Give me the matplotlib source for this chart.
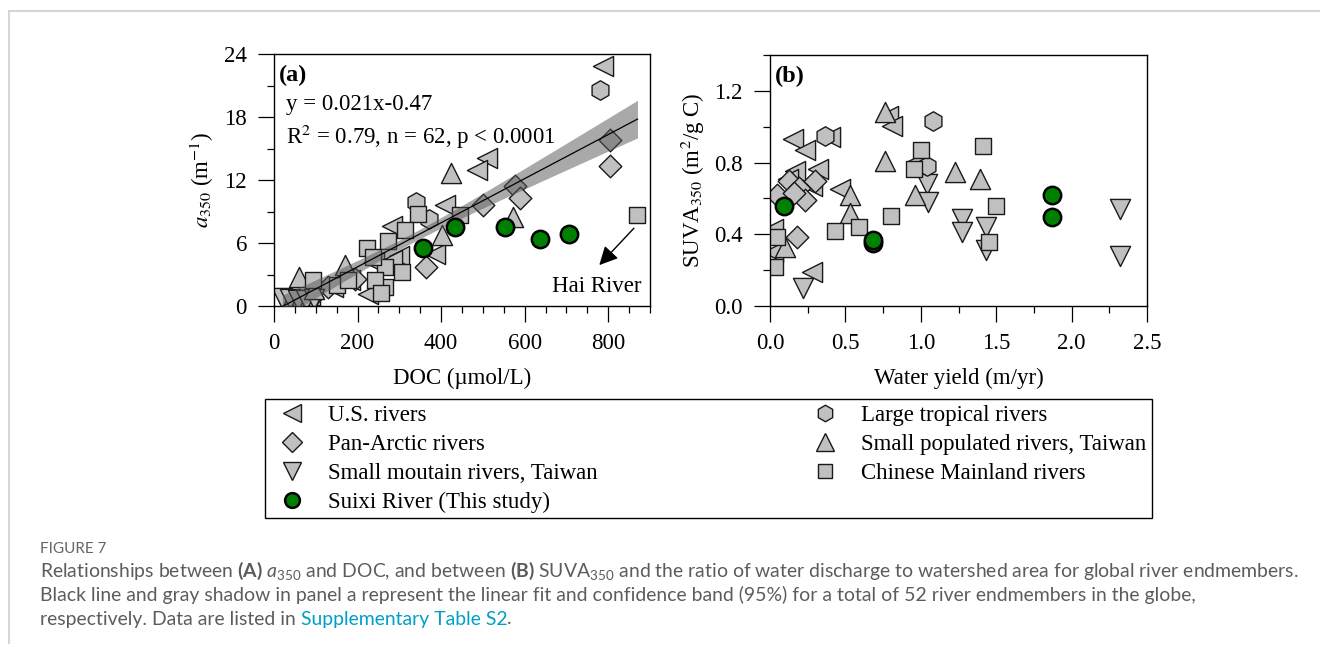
import numpy as np
import matplotlib.pyplot as plt
from matplotlib.lines import Line2D
from matplotlib.ticker import MultipleLocator, FormatStrFormatter

plt.rcParams['font.family'] = 'Liberation Serif'
plt.rcParams['mathtext.fontset'] = 'stix'
plt.rcParams['mathtext.rm'] = 'Lato'
plt.rcParams['mathtext.it'] = 'Lato:italic'
plt.rcParams['mathtext.bf'] = 'Lato:bold'

# ---- panel (a): DOC (umol/L) vs a350 (1/m) ----
us_doc = [788, 509, 485, 410, 386, 282, 225, 182, 141, 85, 55, 240, 300, 282]
us_a350 = [22.9, 14.1, 13.0, 9.6, 5.0, 7.6, 1.1, 2.5, 1.8, 1.0, 0.6, 4.2, 4.8, 4.4]
arctic_doc = [805, 805, 577, 589, 501, 363, 195, 130, 90, 60]
arctic_a350 = [15.8, 13.3, 11.4, 10.3, 9.6, 3.7, 2.6, 1.8, 0.9, 0.6]
mountain_doc = [20, 38, 57, 77, 96]
mountain_a350 = [0.8, 0.7, 0.6, 0.6, 0.7]
tropical_doc = [781, 340, 372]
tropical_a350 = [20.6, 9.9, 8.3]
populated_doc = [61, 95, 169, 401, 424, 573]
populated_a350 = [2.8, 1.6, 3.9, 6.8, 12.7, 8.5]
chinese_doc = [869, 446, 345, 314, 273, 222, 266, 306, 266, 150, 94, 178, 242, 238, 256]
chinese_a350 = [8.7, 8.7, 8.8, 7.2, 6.2, 5.5, 3.7, 3.2, 1.8, 2.0, 2.5, 2.5, 2.5, 4.7, 1.2]
suixi_doc = [356, 434, 553, 637, 707]
suixi_a350 = [5.5, 7.5, 7.5, 6.4, 6.9]

fit_slope, fit_icpt = 0.021, -0.47
fit_range = (20, 870)
band_center, band_half, band_width = 330, 0.45, 140

# ---- panel (b): water yield (m/yr) vs SUVA350 ----
us_wy = [0.155, 0.23, 0.40, 0.785, 0.81, 0.168, 0.32, 0.28, 0.466, 0.28, 0.02, 0.02, 0.98, 0.12]
us_suva = [0.93, 0.87, 0.945, 1.06, 1.005, 0.755, 0.765, 0.67, 0.65, 0.19, 0.43, 0.30, 0.81, 0.71]
arctic_wy = [0.046, 0.124, 0.19, 0.234, 0.30, 0.18, 0.16]
arctic_suva = [0.62, 0.70, 0.66, 0.59, 0.70, 0.385, 0.63]
mountain_wy = [0.22, 1.04, 1.05, 1.27, 1.27, 1.43, 1.43, 2.32, 2.32]
mountain_suva = [0.098, 0.68, 0.58, 0.487, 0.41, 0.44, 0.31, 0.54, 0.28]
tropical_wy = [1.08, 0.365, 1.04]
tropical_suva = [1.03, 0.95, 0.78]
populated_wy = [0.76, 0.76, 0.53, 0.53, 0.96, 1.23, 1.39, 0.10]
populated_suva = [1.08, 0.81, 0.62, 0.52, 0.62, 0.75, 0.71, 0.33]
chinese_wy = [1.0, 0.957, 1.41, 1.50, 1.455, 0.80, 0.59, 0.433, 0.035, 0.046]
chinese_suva = [0.87, 0.765, 0.89, 0.555, 0.357, 0.50, 0.44, 0.42, 0.22, 0.385]
suixi_wy = [0.09, 0.68, 0.685, 1.87, 1.87]
suixi_suva = [0.56, 0.35, 0.37, 0.62, 0.496]

labels = ['U.S. rivers', 'Pan-Arctic rivers', 'Small moutain rivers, Taiwan',
          'Suixi River (This study)', 'Large tropical rivers',
          'Small populated rivers, Taiwan', 'Chinese Mainland rivers']

gray, edge = '#c0c0c0', '#1a1a1a'
styles = {
    'U.S. rivers': dict(marker='<', ms=14.5),
    'Pan-Arctic rivers': dict(marker='D', ms=11.5),
    'Small moutain rivers, Taiwan': dict(marker='v', ms=14.5),
    'Large tropical rivers': dict(marker='h', ms=14),
    'Small populated rivers, Taiwan': dict(marker='^', ms=14.5),
    'Chinese Mainland rivers': dict(marker='s', ms=11.5),
    'Suixi River (This study)': dict(marker='o', ms=12.5),
}

panel_a = {
    'U.S. rivers': (us_doc, us_a350),
    'Pan-Arctic rivers': (arctic_doc, arctic_a350),
    'Small moutain rivers, Taiwan': (mountain_doc, mountain_a350),
    'Large tropical rivers': (tropical_doc, tropical_a350),
    'Small populated rivers, Taiwan': (populated_doc, populated_a350),
    'Chinese Mainland rivers': (chinese_doc, chinese_a350),
}
panel_b = {
    'U.S. rivers': (us_wy, us_suva),
    'Pan-Arctic rivers': (arctic_wy, arctic_suva),
    'Small moutain rivers, Taiwan': (mountain_wy, mountain_suva),
    'Large tropical rivers': (tropical_wy, tropical_suva),
    'Small populated rivers, Taiwan': (populated_wy, populated_suva),
    'Chinese Mainland rivers': (chinese_wy, chinese_suva),
}

FS = 16.5
W, H = 1320, 649
fig = plt.figure(figsize=(W / 100, H / 100), dpi=100)
ax_a = fig.add_axes([274 / W, 1 - 306 / H, 376 / W, 252 / H])
ax_b = fig.add_axes([770 / W, 1 - 306 / H, 377 / W, 251 / H])


def draw_gray(ax, data):
    for name, (x, y) in data.items():
        st = styles[name]
        ax.scatter(x, y, marker=st['marker'], s=st['ms'] ** 2, facecolor=gray,
                   edgecolor=edge, linewidth=1.0, zorder=2)


def draw_green(ax, x, y):
    st = styles['Suixi River (This study)']
    ax.scatter(x, y, marker='o', s=st['ms'] ** 2, facecolor='#008000',
               edgecolor='black', linewidth=1.8, zorder=6)


# panel a
draw_gray(ax_a, panel_a)
fx = np.linspace(fit_range[0], fit_range[1], 200)
fy = fit_slope * fx + fit_icpt
half = band_half * np.sqrt(1 + ((fx - band_center) / band_width) ** 2)
ax_a.fill_between(fx, fy - half, fy + half, color='#555555', alpha=0.5, lw=0, zorder=3)
ax_a.plot(fx, fy, color='black', lw=0.9, zorder=4)
draw_green(ax_a, suixi_doc, suixi_a350)

ax_a.annotate('', xy=(774, 3.7), xytext=(866, 7.6),
              arrowprops=dict(arrowstyle='-|>', color='black', lw=1.0, mutation_scale=28))
ax_a.text(880, 1.9, 'Hai River', ha='right', va='center', fontsize=FS)
ax_a.text(0.032, 0.80, 'y = 0.021x-0.47', transform=ax_a.transAxes, fontsize=FS, va='center')
ax_a.text(0.032, 0.67, r'R$^2$ = 0.79, n = 62, p < 0.0001', transform=ax_a.transAxes,
          fontsize=FS, va='center')
ax_a.text(0.012, 0.915, '(a)', transform=ax_a.transAxes, fontsize=FS + 1,
          fontweight='bold', va='center')

ax_a.set_xlim(0, 900)
ax_a.set_ylim(0, 24)
ax_a.xaxis.set_major_locator(MultipleLocator(200))
ax_a.xaxis.set_minor_locator(MultipleLocator(50))
ax_a.yaxis.set_major_locator(MultipleLocator(6))
ax_a.yaxis.set_minor_locator(MultipleLocator(3))
ax_a.set_xlabel('DOC (µmol/L)', fontsize=FS, labelpad=10)
ax_a.set_ylabel(r'$a_{350}$ (m$^{-1}$)', fontsize=FS, labelpad=6)

# panel b
draw_gray(ax_b, panel_b)
draw_green(ax_b, suixi_wy, suixi_suva)
ax_b.text(0.012, 0.915, '(b)', transform=ax_b.transAxes, fontsize=FS + 1,
          fontweight='bold', va='center')
ax_b.set_xlim(0, 2.5)
ax_b.set_ylim(0, 1.4)
ax_b.xaxis.set_major_locator(MultipleLocator(0.5))
ax_b.xaxis.set_minor_locator(MultipleLocator(0.25))
ax_b.yaxis.set_major_locator(MultipleLocator(0.4))
ax_b.yaxis.set_minor_locator(MultipleLocator(0.2))
ax_b.xaxis.set_major_formatter(FormatStrFormatter('%.1f'))
ax_b.yaxis.set_major_formatter(FormatStrFormatter('%.1f'))
ax_b.set_xlabel('Water yield (m/yr)', fontsize=FS, labelpad=10)
ax_b.set_ylabel(r'SUVA$_{350}$ (m$^2$/g C)', fontsize=FS, labelpad=5)

for ax in (ax_a, ax_b):
    for sp in ax.spines.values():
        sp.set_linewidth(1.0)
    ax.tick_params(which='both', direction='out', top=False, right=False,
                   labelsize=FS, width=0.9, pad=8)
    ax.tick_params(which='major', length=11.5)
    ax.tick_params(which='minor', length=5.3)

# legend
handles = []
for name in labels:
    st = styles[name]
    if name.startswith('Suixi'):
        h = Line2D([], [], ls='none', marker='o', ms=st['ms'] * 0.85, mfc='#008000',
                   mec='black', mew=1.8)
    else:
        h = Line2D([], [], ls='none', marker=st['marker'], ms=st['ms'] * 0.85, mfc=gray,
                   mec=edge, mew=1.0)
    handles.append(h)
leg = fig.legend(handles, labels, ncol=2, loc='upper left',
                 bbox_to_anchor=(265 / W, 1 - 399 / H, 887 / W, 0), mode='expand',
                 fontsize=FS, frameon=True, fancybox=False, edgecolor='black',
                 framealpha=1, borderaxespad=0, borderpad=0.24, handlelength=1.87,
                 handletextpad=0.63, labelspacing=0.35)
leg.get_frame().set_linewidth(1.0)

# page border
fig.add_artist(Line2D([9 / W, 1], [1 - 11 / H] * 2, color='#d6d6d6', lw=1.5))
fig.add_artist(Line2D([9 / W] * 2, [1 - 11 / H, 1 - 643 / H], color='#d6d6d6', lw=1.5))

# caption
cap_col = '#5c5c5c'
cap_x = 40 / W
fig.text(cap_x, 1 - 549 / H, 'FIGURE 7', fontsize=11, color='#666666', family='Lato',
         va='center')
line1 = (r'Relationships between $\mathbf{(A)}$ $\mathit{a}_{350}$ and DOC, and between '
         r'$\mathbf{(B)}$ SUVA${}_{350}$ and the ratio of water discharge to watershed area '
         r'for global river endmembers.')
line2 = ('Black line and gray shadow in panel a represent the linear fit and confidence '
         'band (95%) for a total of 52 river endmembers in the globe,')
line3a = 'respectively. Data are listed in'
line3b = 'Supplementary Table S2'
t1 = fig.text(cap_x, 1 - 571 / H, line1, fontsize=12, color=cap_col, family='Lato',
              va='center', math_fontfamily='custom')
r = fig.canvas.get_renderer()
cap_fs = 12 * 1253 / t1.get_window_extent(r).width
t1.set_fontsize(cap_fs)
fig.text(cap_x, 1 - 595 / H, line2, fontsize=cap_fs, color=cap_col, family='Lato',
         va='center')
t3 = fig.text(cap_x, 1 - 619 / H, line3a, fontsize=cap_fs, color=cap_col, family='Lato',
              va='center')
wa = fig.text(0, 0, 'a a', fontsize=cap_fs, family='Lato')
wb = fig.text(0, 0, 'aa', fontsize=cap_fs, family='Lato')
space = wa.get_window_extent(r).width - wb.get_window_extent(r).width
wa.remove()
wb.remove()
x3 = cap_x + (t3.get_window_extent(r).width + space) / W
t4 = fig.text(x3, 1 - 619 / H, line3b, fontsize=cap_fs, color='#00a0c6', family='Lato',
              va='center')
x4 = x3 + t4.get_window_extent(r).width / W
fig.text(x4, 1 - 619 / H, '.', fontsize=cap_fs, color=cap_col, family='Lato', va='center')

fig.savefig('out.png', dpi=100)
